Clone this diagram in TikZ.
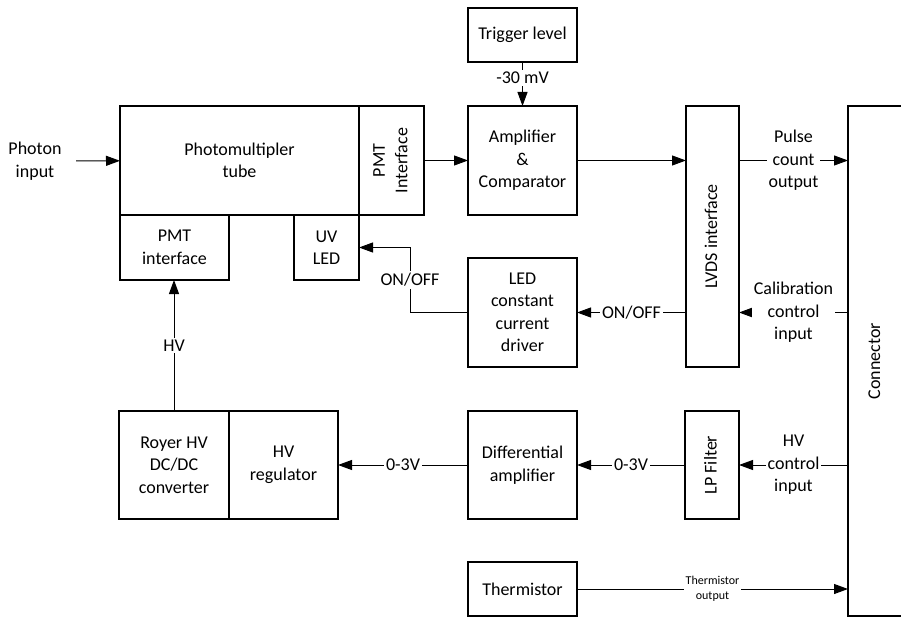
\documentclass[tikz,border=0pt]{standalone}
\usepackage{fontspec}
\setmainfont{Carlito}
\usetikzlibrary{arrows.meta,positioning,calc}

% vertical text inside a box
\newcommand{\vtext}[1]{\rotatebox{90}{\begin{tabular}{@{}c@{}}#1\end{tabular}}}

\begin{document}
\begin{tikzpicture}[x=1pt,y=-1pt,line width=1pt,
  font=\fontsize{18}{22.5}\selectfont,
  block/.style={rectangle,draw,line width=1.6pt,align=center,inner sep=2pt,outer sep=0pt},
  sig/.style={fill=white,inner sep=2pt,align=center},
  >={Triangle[length=14pt,width=10pt]}]

\useasboundingbox (0,0) rectangle (901,617);

% PMT and its parts
\node[block,minimum width=239pt,minimum height=109pt,name=pmt] at (239.5,160.5) {Photomultipler\\tube};
\node[block,minimum width=65pt,minimum height=109pt,right=0pt of pmt,name=pmtif] {\vtext{PMT\\Interface}};
\node[block,minimum width=109pt,minimum height=65pt,anchor=north west,name=pmtlow] at (pmt.south west) {PMT\\interface};
\node[block,minimum width=65pt,minimum height=65pt,anchor=north east,name=uvled] at (pmt.south east) {UV\\LED};

% middle column
\node[block,minimum width=109pt,minimum height=109pt,name=amp] at (522.5,160.5) {Amplifier\\\&\\Comparator};
\node[block,minimum width=109pt,minimum height=54pt,above=44pt of amp,name=trigger] {Trigger level};
\node[block,minimum width=109pt,minimum height=109pt,below=43pt of amp,name=ledd] {LED\\constant\\current\\driver};
\node[block,minimum width=109pt,minimum height=108pt,name=diff] at (522.5,465) {Differential\\amplifier};
\node[block,minimum width=109pt,minimum height=54pt,below=43pt of diff,name=therm] {Thermistor};

% HV supply
\node[block,minimum width=110pt,minimum height=108pt,name=royer] at (174,465) {Royer HV\\DC/DC\\converter};
\node[block,minimum width=109pt,minimum height=108pt,right=0pt of royer,name=hvreg] {HV\\regulator};

% interfaces and connector
\node[block,minimum width=53pt,minimum height=261pt,name=lvds] at (712.5,236.5) {\vtext{LVDS interface}};
\node[block,minimum width=54pt,minimum height=108pt,name=lpf] at (712,465) {\vtext{LP Filter}};
\node[block,minimum width=55pt,minimum height=510pt,name=conn] at (875.5,361) {\vtext{Connector}};

% photon input
\node[align=center,inner xsep=14pt,name=photon] at (35,161) {Photon\\input};
\draw[->] (photon) -- (pmt);

% signal path
\draw[->] (pmtif) -- (amp);
\draw[->] (trigger) -- node[sig,pos=0.36] {-30 mV} (amp);
\draw[->] (amp) -- (amp -| lvds.west);
\draw[->] (amp -| lvds.east) -- node[sig] {Pulse\\count\\output} (amp -| conn.west);

% calibration LED
\draw[->] (ledd -| conn.west) -- node[sig] {Calibration\\control\\input} (ledd -| lvds.east);
\draw[->] (ledd -| lvds.west) -- node[sig] {ON/OFF} (ledd);
\coordinate (ledbend) at ($(ledd.west)+(-58,0)$);
\draw[->] (ledd.west) -- (ledbend) -- node[sig] {ON/OFF} (ledbend |- uvled) -- (uvled);

% HV control
\draw[->] (lpf -| conn.west) -- node[sig] {HV\\control\\input} (lpf);
\draw[->] (lpf) -- node[sig] {0-3V} (diff);
\draw[->] (diff) -- node[sig] {0-3V} (hvreg);
\draw[->] (royer.north) -- node[sig] {HV} (royer.north |- pmtlow.south);

% thermistor
\draw[->] (therm) -- node[sig,font=\fontsize{12}{15}\selectfont] {Thermistor\\output} (therm -| conn.west);
\end{tikzpicture}
\end{document}
